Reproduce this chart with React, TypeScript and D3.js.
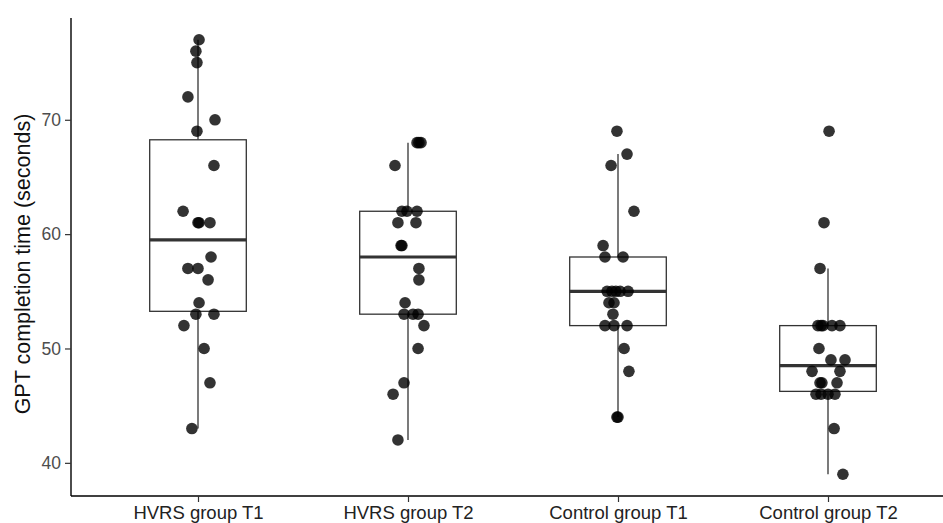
import React, { useEffect, useRef } from 'react';
import * as d3 from 'd3';

// group labels on the x axis
const groups = ['HVRS group T1', 'HVRS group T2', 'Control group T1', 'Control group T2'];

// completion times (seconds) per group
const hvrsT1 = [77, 76, 75, 72, 70, 69, 66, 62, 61, 61, 61, 58, 57, 57, 56, 54, 53, 53, 52, 50, 47, 43];
const hvrsT2 = [68, 68, 68, 66, 62, 62, 62, 61, 61, 59, 59, 57, 56, 54, 53, 53, 53, 52, 50, 47, 46, 42];
const controlT1 = [69, 67, 66, 62, 59, 58, 58, 55, 55, 55, 55, 55, 54, 54, 53, 52, 52, 52, 50, 48, 44, 44];
const controlT2 = [69, 61, 57, 52, 52, 52, 52, 52, 50, 49, 49, 48, 48, 47, 47, 47, 46, 46, 46, 46, 43, 39];

// horizontal jitter of each point, in category units
const hvrsT1Jitter = [0.005, -0.01, -0.005, -0.048, 0.081, -0.005, 0.076, -0.071, 0, 0.005, 0.057, 0.062, -0.048, 0, 0.048, 0.005, -0.01, 0.076, -0.067, 0.029, 0.057, -0.029];
const hvrsT2Jitter = [0.043, 0.062, 0.052, -0.062, -0.029, -0.005, 0.043, -0.048, 0.038, -0.033, -0.029, 0.052, 0.052, -0.014, -0.019, 0.024, 0.048, 0.076, 0.048, -0.019, -0.071, -0.048];
const controlT1Jitter = [-0.005, 0.043, -0.033, 0.076, -0.071, -0.062, 0.024, -0.052, -0.029, -0.01, 0.01, 0.048, -0.043, -0.019, -0.024, -0.062, -0.019, 0.043, 0.029, 0.052, -0.005, 0];
const controlT2Jitter = [0.005, -0.019, -0.038, -0.048, -0.033, -0.024, 0.019, 0.057, -0.043, 0.014, 0.081, -0.076, 0.057, -0.038, -0.029, 0.043, -0.057, -0.033, 0, 0.033, 0.029, 0.071];

const yTicks = [40, 50, 60, 70];

const seriesValues = [hvrsT1, hvrsT2, controlT1, controlT2];
const seriesJitter = [hvrsT1Jitter, hvrsT2Jitter, controlT1Jitter, controlT2Jitter];

const App = () => {
  const svgRef = useRef<SVGSVGElement>(null);

  useEffect(() => {
    document.body.style.margin = '0';
    const svg = d3.select(svgRef.current);
    svg.selectAll('*').remove();

    const width = 943;
    const height = 523;
    const left = 71;
    const top = 18;
    const bottom = 496;

    const allValues = seriesValues.flat();
    const lo = d3.min(allValues)!;
    const hi = d3.max(allValues)!;
    const pad = (hi - lo) * 0.05;

    const y = d3.scaleLinear().domain([lo - pad, hi + pad]).range([bottom, top]);
    // ggplot style discrete axis: centres at 1..n, 0.6 expansion each side
    const x = d3.scaleLinear().domain([0.4, groups.length + 0.6]).range([72, 954]);

    svg.attr('width', width).attr('height', height);

    const boxWidth = 0.46;
    const lineColor = '#333';

    seriesValues.forEach((vals, i) => {
      const sorted = vals.slice().sort(d3.ascending);
      const q1 = d3.quantile(sorted, 0.25)!;
      const med = d3.quantile(sorted, 0.5)!;
      const q3 = d3.quantile(sorted, 0.75)!;
      const iqr = q3 - q1;
      const wLo = d3.min(sorted.filter(v => v >= q1 - 1.5 * iqr))!;
      const wHi = d3.max(sorted.filter(v => v <= q3 + 1.5 * iqr))!;
      const cx = x(i + 1);
      const g = svg.append('g');

      g.append('line')
        .attr('x1', cx).attr('x2', cx)
        .attr('y1', y(q3)).attr('y2', y(wHi))
        .attr('stroke', lineColor).attr('stroke-width', 1.3);
      g.append('line')
        .attr('x1', cx).attr('x2', cx)
        .attr('y1', y(q1)).attr('y2', y(wLo))
        .attr('stroke', lineColor).attr('stroke-width', 1.3);

      g.append('rect')
        .attr('x', x(i + 1 - boxWidth / 2))
        .attr('width', x(i + 1 + boxWidth / 2) - x(i + 1 - boxWidth / 2))
        .attr('y', y(q3))
        .attr('height', y(q1) - y(q3))
        .attr('fill', '#fff')
        .attr('stroke', lineColor)
        .attr('stroke-width', 1.3);

      g.append('line')
        .attr('x1', x(i + 1 - boxWidth / 2)).attr('x2', x(i + 1 + boxWidth / 2))
        .attr('y1', y(med)).attr('y2', y(med))
        .attr('stroke', lineColor).attr('stroke-width', 3.2);
    });

    // jittered points on top
    seriesValues.forEach((vals, i) => {
      svg.append('g')
        .selectAll('circle')
        .data(vals)
        .enter()
        .append('circle')
        .attr('cx', (d, j) => x(i + 1 + seriesJitter[i][j]))
        .attr('cy', d => y(d))
        .attr('r', 5.8)
        .attr('fill', '#000')
        .attr('fill-opacity', 0.8);
    });

    const font = 'Liberation Sans, Arial, sans-serif';

    // y axis
    const yAxis = svg.append('g')
      .attr('transform', `translate(${left},0)`)
      .call(d3.axisLeft(y).tickValues(yTicks).tickSize(6).tickPadding(4).tickFormat(d3.format('d')));
    yAxis.select('.domain').attr('d', `M0,${top}V${bottom}`).attr('stroke', '#000').attr('stroke-width', 1.4);
    yAxis.selectAll('.tick line').attr('stroke', '#333').attr('stroke-width', 1.2);
    yAxis.selectAll('.tick text')
      .attr('font-family', font).attr('font-size', 17.5).attr('fill', '#4d4d4d');

    // x axis
    const xAxis = svg.append('g')
      .attr('transform', `translate(0,${bottom})`)
      .call(d3.axisBottom(x)
        .tickValues(groups.map((_, i) => i + 1))
        .tickSize(6).tickPadding(4)
        .tickFormat((d: any) => groups[d - 1]));
    xAxis.select('.domain').attr('d', `M${left},0H${width}`).attr('stroke', '#000').attr('stroke-width', 1.4);
    xAxis.selectAll('.tick line').attr('stroke', '#333').attr('stroke-width', 1.2);
    xAxis.selectAll('.tick text')
      .attr('font-family', font).attr('font-size', 18.5).attr('fill', '#222');

    // y axis title
    svg.append('text')
      .attr('transform', `translate(30,${(top + bottom) / 2 + 7}) rotate(-90)`)
      .attr('text-anchor', 'middle')
      .attr('font-family', font)
      .attr('font-size', 21.5)
      .attr('fill', '#111')
      .text('GPT completion time (seconds)');
  }, []);

  return <svg ref={svgRef}></svg>;
};

export default App;
